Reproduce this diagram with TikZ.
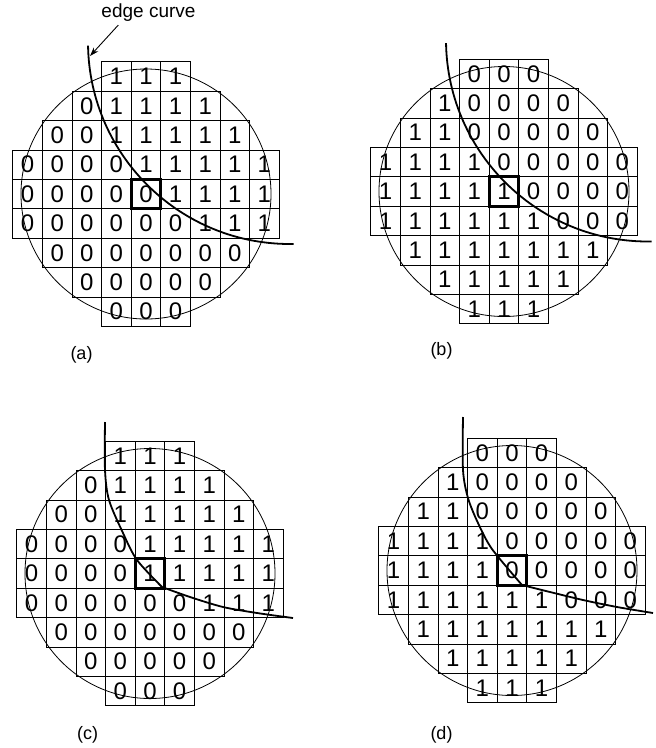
\documentclass[tikz,border=0pt]{standalone}
\usepackage{fontspec}
\setmainfont{Liberation Sans}
\usetikzlibrary{arrows.meta}
\tikzset{
  cellbox/.style={draw=black, line width=0.7pt, minimum width=29.6pt, minimum height=29.4pt,
    inner sep=0pt, outer sep=0pt, font=\fontsize{24}{24}\selectfont},
  wafer/.style={draw=black, line width=0.8pt},
  edgeline/.style={draw=black, line width=1.8pt, line join=round},
  centerbox/.style={draw=black, line width=3pt},
  caption/.style={font=\fontsize{18}{18}\selectfont, inner sep=0pt},
  pointer/.style={draw=black, line width=0.9pt, -{Stealth[length=9pt,width=6pt]}},
  labeltext/.style={font=\fontsize{19}{19}\selectfont, inner sep=0pt},
}
\newcommand{\drawpanel}[4]{%
  \draw[wafer] (#2,#3) circle[radius=125pt];
  \foreach \row [count=\r] in {#4} {
    \foreach \v [count=\c] in \row {
      \if\v-\relax\else
        \node[cellbox] (#1-\r-\c) at ({#2+(\c-5)*29.6},{#3+(\r-5)*29.4}) {\v};
      \fi
    }
  }
  \draw[centerbox] (#1-5-5.south west) rectangle (#1-5-5.north east);
}
\begin{document}
\begin{tikzpicture}[x=1pt,y=-1pt]
\useasboundingbox (0,0) rectangle (656,748);
\fill[white] (0,0) rectangle (656,748);

% panel (a)
\drawpanel{a}{146}{194}{%
 {-,-,-,1,1,1,-,-,-},
 {-,-,0,1,1,1,1,-,-},
 {-,0,0,1,1,1,1,1,-},
 {0,0,0,0,1,1,1,1,1},
 {0,0,0,0,0,1,1,1,1},
 {0,0,0,0,0,0,1,1,1},
 {-,0,0,0,0,0,0,0,-},
 {-,-,0,0,0,0,0,-,-},
 {-,-,-,0,0,0,-,-,-}}
\draw[edgeline] ({290+202*cos(179)},{42+202*sin(179)}) arc[start angle=179, end angle=89, radius=202];

% panel (b)
\drawpanel{b}{504}{191.5}{%
 {-,-,-,0,0,0,-,-,-},
 {-,-,1,0,0,0,0,-,-},
 {-,1,1,0,0,0,0,0,-},
 {1,1,1,1,0,0,0,0,0},
 {1,1,1,1,1,0,0,0,0},
 {1,1,1,1,1,1,0,0,0},
 {-,1,1,1,1,1,1,1,-},
 {-,-,1,1,1,1,1,-,-},
 {-,-,-,1,1,1,-,-,-}}
\draw[edgeline] ({648+202*cos(179)},{39.5+202*sin(179)}) arc[start angle=179, end angle=89, radius=202];

% panel (c)
\drawpanel{c}{150}{573.5}{%
 {-,-,-,1,1,1,-,-,-},
 {-,-,0,1,1,1,1,-,-},
 {-,0,0,1,1,1,1,1,-},
 {0,0,0,0,1,1,1,1,1},
 {0,0,0,0,1,1,1,1,1},
 {0,0,0,0,0,0,1,1,1},
 {-,0,0,0,0,0,0,0,-},
 {-,-,0,0,0,0,0,-,-},
 {-,-,-,0,0,0,-,-,-}}
\draw[edgeline] plot[smooth] coordinates {(105,422) (105,470) (109,500) (123,533) (137,560) (162,587)}
  -- plot[smooth] coordinates {(162,587) (190,597) (223,607) (257,613) (293,618)};

% panel (d)
\drawpanel{d}{512}{570.5}{%
 {-,-,-,0,0,0,-,-,-},
 {-,-,1,0,0,0,0,-,-},
 {-,1,1,0,0,0,0,0,-},
 {1,1,1,1,0,0,0,0,0},
 {1,1,1,1,0,0,0,0,0},
 {1,1,1,1,1,1,0,0,0},
 {-,1,1,1,1,1,1,1,-},
 {-,-,1,1,1,1,1,-,-},
 {-,-,-,1,1,1,-,-,-}}
\draw[edgeline] plot[smooth] coordinates {(463,417) (463,470) (468,498) (478,523) (492,549) (522,585)}
  -- plot[smooth] coordinates {(522,585) (550,592) (583,600) (617,607) (653,613)};

% edge curve label and pointer
\node[labeltext] (lbl) at (148.5,12.5) {edge curve};
\coordinate (ectip) at (90,56);
\draw[pointer] ([xshift=17pt,yshift=-3.5pt]lbl.south west) -- (ectip);

% captions
\node[caption] (capa) at (81.5,355) {(a)};
\node[caption] (capb) at (441.5,350.5) {(b)};
\node[caption] (capc) at (87.5,734.5) {(c)};
\node[caption] (capd) at (441.5,734.5) {(d)};
\end{tikzpicture}
\end{document}
